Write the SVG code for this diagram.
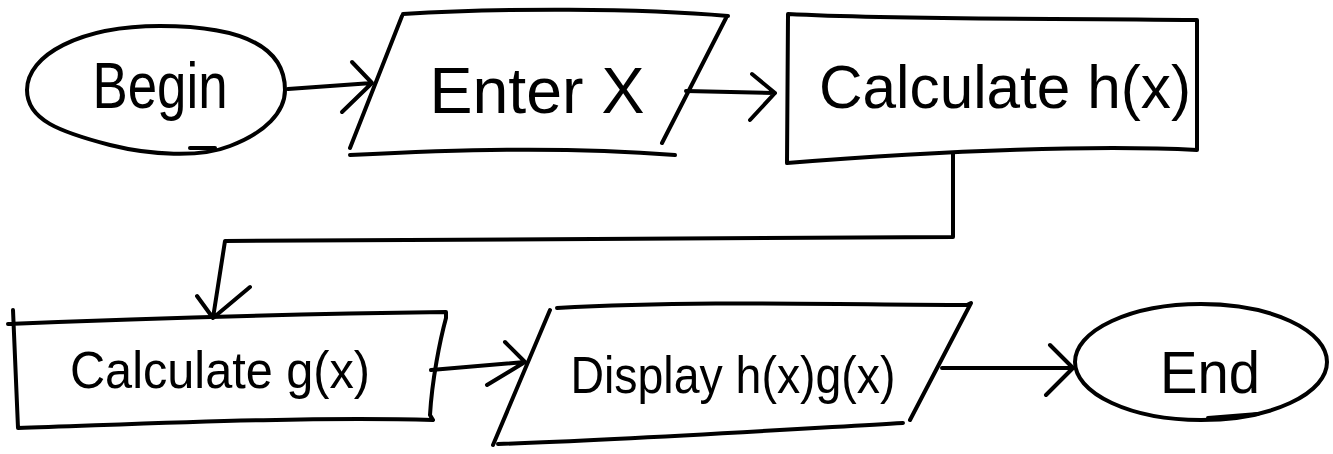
<svg xmlns="http://www.w3.org/2000/svg" width="1333" height="454" viewBox="0 0 1333 454">
<style>
.s{fill:none;stroke:#000;stroke-width:4;stroke-linecap:round;stroke-linejoin:round}
.t{font-family:"Liberation Sans",Arial,sans-serif;fill:#000;text-anchor:middle}
</style>
<rect width="1333" height="454" fill="#fff"/>
<g id="begin">
<path class="s" d="M285,90 C285,45 240,26 160,26 C80,26 27,55 27,90 C27,120 60,132 110,145 C150,155 200,158 230,146 C265,133 285,112 285,90 Z"/>
<path class="s" d="M190,148 L215,148"/>
<text class="t" x="160" y="108" font-size="64" textLength="135" lengthAdjust="spacingAndGlyphs">Begin</text>
</g>
<g id="enter">
<path class="s" d="M403,14 C500,8 640,8 728,16 M726,18 L662,143 M675,155 C560,146 450,150 350,155 M350,148 L402,16"/>
<text class="t" x="537" y="113" font-size="64" textLength="215" lengthAdjust="spacingAndGlyphs">Enter X</text>
</g>
<g id="calch">
<path class="s" d="M788,14 C900,20 1050,18 1197,20 L1197,150 C1100,145 950,150 787,163 L788,14 Z"/>
<text class="t" x="1005" y="108" font-size="62" textLength="372" lengthAdjust="spacingAndGlyphs">Calculate h(x)</text>
</g>
<g id="calcg">
<path class="s" d="M8,324 C150,318 300,314 446,312 L446,318 C440,340 432,380 430,415 L433,420 C300,416 120,425 18,428 L13,310"/>
<text class="t" x="220" y="388" font-size="52" textLength="300" lengthAdjust="spacingAndGlyphs">Calculate g(x)</text>
</g>
<g id="display">
<path class="s" d="M557,308 C700,300 850,305 967,305 L971,303 L910,420 M903,423 C780,430 620,440 498,444 M493,445 L550,310"/>
<text class="t" x="733" y="393" font-size="52" textLength="325" lengthAdjust="spacingAndGlyphs">Display h(x)g(x)</text>
</g>
<g id="end">
<ellipse class="s" cx="1201" cy="362" rx="126" ry="58"/>
<path class="s" d="M1208,418 L1258,414"/>
<text class="t" x="1210" y="393" font-size="60" textLength="100" lengthAdjust="spacingAndGlyphs">End</text>
</g>
<g id="connectors">
<path class="s" d="M288,89 L372,83 M352,62 L372,83 L342,112"/>
<path class="s" d="M686,91 L775,93 M752,74 L775,93 L750,120"/>
<path class="s" d="M953,153 L953,237 L225,241 L213,318 M197,296 L213,318 L250,287"/>
<path class="s" d="M431,370 L525,362 M505,342 L525,362 L487,385"/>
<path class="s" d="M942,368 L1073,368 M1050,345 L1073,368 L1046,395"/>
</g>
</svg>
